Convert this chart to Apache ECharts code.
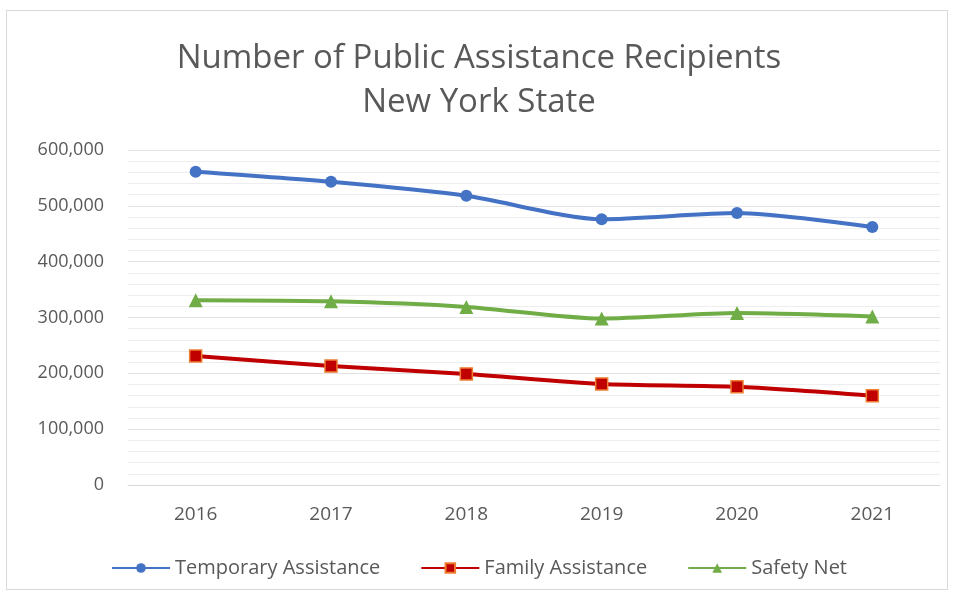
<!DOCTYPE html>
<html>
<head>
<meta charset="utf-8">
<script src="https://cdn.jsdelivr.net/npm/echarts@6/dist/echarts.min.js"></script>
<style>
  html, body { margin: 0; padding: 0; background: #fff; }
  #main { width: 958px; height: 595px; }
  .frame { position: absolute; left: 6px; top: 10px; width: 942px; height: 580px; border: 1px solid #d9d9d9; box-sizing: border-box; }
</style>
</head>
<body>
<div class="frame"></div>
<div id="main"></div>
<script>
  // 年份
  var years = ['2016', '2017', '2018', '2019', '2020', '2021'];
  // 各项目人数
  var temporaryAssistance = [561000, 543000, 518000, 476000, 487000, 462000];
  var familyAssistance = [231000, 213000, 199000, 181000, 176000, 160000];
  var safetyNet = [331000, 329000, 319000, 298000, 308000, 302000];
  var seriesNames = ['Temporary Assistance', 'Family Assistance', 'Safety Net'];

  var chartDom = document.getElementById('main');
  var myChart = echarts.init(chartDom);
  var fontFamily = '"Open Sans", sans-serif';

  var option = {
    textStyle: { fontFamily: fontFamily },
    title: {
      text: 'Number of Public Assistance Recipients\nNew York State',
      left: 'center',
      top: 32,
      textStyle: {
        fontFamily: fontFamily,
        fontSize: 33,
        fontWeight: 'normal',
        color: '#595959',
        lineHeight: 44
      }
    },
    legend: {
      bottom: 12,
      left: 'center',
      itemWidth: 58,
      itemHeight: 12,
      itemGap: 40,
      textStyle: { fontSize: 20, color: '#595959', fontFamily: fontFamily },
      data: seriesNames
    },
    grid: {
      left: 128,
      right: 18,
      top: 150,
      bottom: 110,
      containLabel: false
    },
    xAxis: {
      type: 'category',
      data: years,
      axisLine: { lineStyle: { color: '#d9d9d9', width: 1 } },
      axisTick: { show: false },
      axisLabel: { fontSize: 19, color: '#595959', margin: 20 }
    },
    yAxis: {
      type: 'value',
      min: 0,
      max: 600000,
      interval: 100000,
      axisLine: { show: false },
      axisTick: { show: false },
      axisLabel: {
        fontSize: 18,
        color: '#595959',
        margin: 24,
        formatter: function (v) { return v.toLocaleString('en-US'); }
      },
      splitLine: { lineStyle: { color: '#e3e3e3', width: 1 } },
      minorTick: { show: false, splitNumber: 5 },
      minorSplitLine: { show: true, lineStyle: { color: '#eeeeee', width: 1 } }
    },
    series: [
      {
        name: seriesNames[0],
        type: 'line',
        data: temporaryAssistance,
        smooth: 0.25,
        symbol: 'circle',
        symbolSize: 12,
        lineStyle: { color: '#4472C4', width: 4 },
        itemStyle: { color: '#4472C4' }
      },
      {
        name: seriesNames[1],
        type: 'line',
        data: familyAssistance,
        smooth: 0.25,
        symbol: 'rect',
        symbolSize: 12,
        lineStyle: { color: '#C00000', width: 4 },
        itemStyle: { color: '#C00000', borderColor: '#ED7D31', borderWidth: 1.5 }
      },
      {
        name: seriesNames[2],
        type: 'line',
        data: safetyNet,
        smooth: 0.25,
        symbol: 'triangle',
        symbolSize: 14,
        lineStyle: { color: '#70AD47', width: 4 },
        itemStyle: { color: '#70AD47' }
      }
    ]
  };
  myChart.setOption(option);
</script>
</body>
</html>
